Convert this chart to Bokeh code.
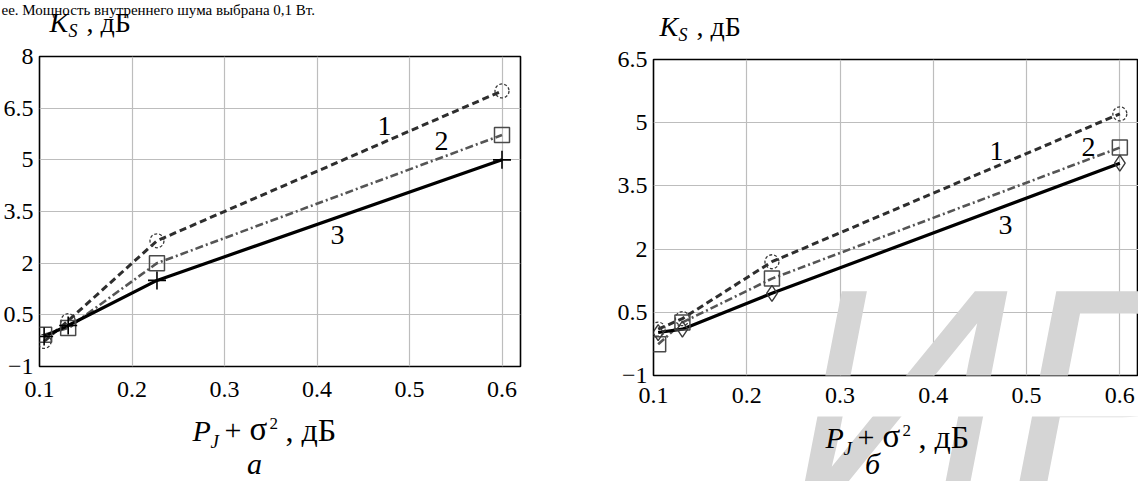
from bokeh.plotting import figure
from bokeh.layouts import row, column
from bokeh.models import Label, FixedTicker, Range1d
from bokeh.embed import file_html
from bokeh.resources import INLINE

# ---------------- data ----------------
x_vals = [0.105, 0.131, 0.227, 0.6]            # P_J + sigma^2, dB

# panel "а"
a_curve1 = [-0.27, 0.33, 2.65, 7.0]
a_curve2 = [-0.08, 0.12, 2.0, 5.72]
a_curve3 = [-0.13, 0.19, 1.5, 5.0]

# panel "б"
b_curve1 = [0.10, 0.35, 1.70, 5.21]
b_curve2 = [-0.26, 0.26, 1.30, 4.41]
b_curve3 = [0.02, 0.10, 0.95, 4.04]

x_ticks = [0.1, 0.2, 0.3, 0.4, 0.5, 0.6]
x_tick_labels = ["0.1", "0.2", "0.3", "0.4", "0.5", "0.6"]
a_y_ticks = [-1, 0.5, 2, 3.5, 5, 6.5, 8]
a_y_tick_labels = ["\u22121", "0.5", "2", "3.5", "5", "6.5", "8"]
b_y_ticks = [-1, 0.5, 2, 3.5, 5, 6.5]
b_y_tick_labels = ["\u22121", "0.5", "2", "3.5", "5", "6.5"]
curve_names = ["1", "2", "3"]
panel_names = ["а", "б"]
top_text = "ее. Мощность внутреннего шума выбрана 0,1 Вт."
watermark = "ИР"

SERIF = "Liberation Serif"
TOP_Y0, BOT_Y1 = 8, 489                    # page rows
LEFT_X0, SPLIT_X, RIGHT_X1 = 8, 578, 1146  # page columns
A_ROW_Y0, A_ROW_Y1 = 49, 418               # left plot canvas (page y)
B_ROW_Y0, B_ROW_Y1 = 53, 424               # right plot canvas (page y)


def band(x0, x1, y0, y1):
    """A figure whose whole canvas is its frame, in page pixel coordinates."""
    f = figure(width=x1 - x0, height=y1 - y0, x_range=Range1d(x0, x1),
               y_range=Range1d(y1, y0), output_backend="svg", toolbar_location=None,
               x_axis_location=None, y_axis_location=None, min_border=0,
               min_border_left=0, min_border_right=0, min_border_top=0, min_border_bottom=0)
    f.outline_line_color = None
    f.grid.visible = False
    f.background_fill_color = "white"
    f.border_fill_color = "white"
    return f


def make_fig(width, height, bl, br, bt, bb, yr, yticks, ylabels, standoff):
    p = figure(width=width, height=height, x_range=Range1d(0.1, 0.62),
               y_range=Range1d(*yr), output_backend="svg", toolbar_location=None,
               min_border_left=bl, min_border_right=br, min_border_top=bt, min_border_bottom=bb)
    p.outline_line_color = "black"
    p.outline_line_width = 1.6
    p.outline_line_alpha = 1.0
    p.background_fill_color = "white"
    p.border_fill_color = "white"
    p.xaxis.ticker = FixedTicker(ticks=x_ticks)
    p.xaxis.major_label_overrides = dict(zip(x_ticks, x_tick_labels))
    p.yaxis.ticker = FixedTicker(ticks=yticks)
    p.yaxis.major_label_overrides = dict(zip(yticks, ylabels))
    for ax in (p.xaxis[0], p.yaxis[0]):
        ax.axis_line_color = None
        ax.major_tick_line_color = None
        ax.minor_tick_line_color = None
        ax.major_tick_out = 0
        ax.major_tick_in = 0
        ax.major_label_text_font = SERIF
        ax.major_label_text_font_size = "24px"
        ax.major_label_text_color = "black"
    p.xaxis.major_label_standoff = standoff
    p.yaxis.major_label_standoff = 6
    p.grid.grid_line_color = "#bdbdbd"
    p.grid.grid_line_width = 1.2
    return p


def add_series(p, ys1, ys2, ys3, third_marker):
    p.line(x_vals, ys1, line_color="#2e2e2e", line_width=3, line_dash="7 4")
    p.line(x_vals, ys2, line_color="#555555", line_width=2.6, line_dash="8 3 2 3")
    p.line(x_vals, ys3, line_color="black", line_width=3.2)
    p.scatter(x_vals, ys1, marker="circle", size=14, fill_color=None,
              line_color="#3a3a3a", line_width=1.3, line_dash="3 2")
    p.scatter(x_vals, ys2, marker="square", size=15, fill_color=None,
              line_color="#4a4a4a", line_width=1.5)
    if third_marker == "cross":
        p.scatter(x_vals, ys3, marker="cross", size=18, line_color="black", line_width=1.6)
    else:
        p.scatter(x_vals, ys3, marker="diamond", size=16, fill_color=None,
                  line_color="#3a3a3a", line_width=1.4)


def text(p, conv, px, base_y, s, size, italic=False, align="left", color="black",
         font=SERIF, k=0.34):
    """Place text so that its baseline is at page y = base_y (middle-anchored)."""
    xd, yd = conv(px, base_y - k * size)
    p.add_layout(Label(x=xd, y=yd, text=s, text_font=font, text_font_size=f"{size}px",
                       text_font_style="italic" if italic else "normal",
                       text_align=align, text_baseline="middle", text_color=color))


def center_text(p, conv, px, py, s, size):
    xd, yd = conv(px, py)
    p.add_layout(Label(x=xd, y=yd, text=s, text_font=SERIF, text_font_size=f"{size}px",
                       text_align="center", text_baseline="middle", text_color="black"))


ident = lambda px, py: (px, py)


def y_title(f, kx, ky):
    # K_S , дБ
    text(f, ident, kx, ky, "K", 28, italic=True)
    text(f, ident, kx + 19, ky + 5, "S", 18, italic=True)
    text(f, ident, kx + 37, ky, ", дБ", 28)


def x_title(f, tx, ty):
    # P_J + σ^2 , дБ
    text(f, ident, tx, ty, "P", 30, italic=True)
    text(f, ident, tx + 18, ty + 7, "J", 19, italic=True)
    text(f, ident, tx + 32, ty, "+", 30)
    text(f, ident, tx + 57, ty, "σ", 33)
    text(f, ident, tx + 77, ty - 11, "2", 17)
    text(f, ident, tx + 93, ty, ", дБ", 32)


WM_SIZE = 300
WM_X, WM_BASE = 800, 505
WM_COLOR = "#d5d5d5"

# ---------------- panel а (left column) ----------------
top_a = band(LEFT_X0, SPLIT_X, TOP_Y0, A_ROW_Y0)
text(top_a, ident, 9, 22.5, top_text, 15)
y_title(top_a, 57, 40)

pa = make_fig(SPLIT_X - LEFT_X0, A_ROW_Y1 - A_ROW_Y0, 39, 50, 64 - A_ROW_Y0, A_ROW_Y1 - 374,
              (-1, 8), a_y_ticks, a_y_tick_labels, 15)
conv_a = lambda px, py: (0.1 + (px - 47) / 481 * 0.52, 8 - (py - 64) / 310 * 9)
add_series(pa, a_curve1, a_curve2, a_curve3, "cross")
for name, (px, py) in zip(curve_names, [(392, 133), (449, 148), (345, 242)]):
    center_text(pa, conv_a, px, py, name, 28)

bot_a = band(LEFT_X0, SPLIT_X, A_ROW_Y1, BOT_Y1)
x_title(bot_a, 200, 448)
text(bot_a, ident, 262, 481, panel_names[0], 30, italic=True, align="center")

# ---------------- panel б (right column) ----------------
top_b = band(SPLIT_X, RIGHT_X1, TOP_Y0, B_ROW_Y0)
y_title(top_b, 667, 44)

pb = make_fig(RIGHT_X1 - SPLIT_X, B_ROW_Y1 - B_ROW_Y0, 83, 0, 67 - B_ROW_Y0, B_ROW_Y1 - 383,
              (-1, 6.5), b_y_ticks, b_y_tick_labels, 12)
conv_b = lambda px, py: (0.1 + (px - 661) / 485 * 0.52, 6.5 - (py - 67) / 316 * 7.5)
add_series(pb, b_curve1, b_curve2, b_curve3, "diamond")
for name, (px, py) in zip(curve_names, [(1004, 158), (1096, 154), (1013, 232)]):
    center_text(pb, conv_b, px, py, name, 28)
text(pb, conv_b, WM_X, WM_BASE, watermark, WM_SIZE, italic=True, color=WM_COLOR,
     font="Liberation Sans", k=0.3465)

bot_b = band(SPLIT_X, RIGHT_X1, B_ROW_Y1, BOT_Y1)
text(bot_b, ident, WM_X, WM_BASE, watermark, WM_SIZE, italic=True, color=WM_COLOR,
     font="Liberation Sans", k=0.3465)
x_title(bot_b, 833, 455)
text(bot_b, ident, 880, 481, panel_names[1], 30, italic=True, align="center")

# bands are wrapped in their own rows so that their frames are not aligned with the plots
layout = row(column(row(top_a), row(pa), row(bot_a)),
             column(row(top_b), row(pb), row(bot_b)))
open("out.html", "w").write(file_html(layout, INLINE))
